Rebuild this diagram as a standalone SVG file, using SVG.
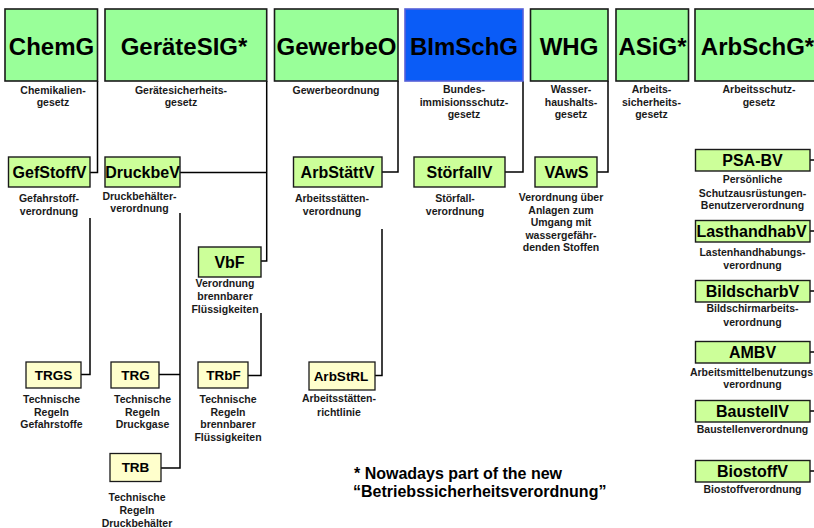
<svg xmlns="http://www.w3.org/2000/svg" width="814" height="528" viewBox="0 0 814 528">
  <style>
    text { font-family: "Liberation Sans", Arial, Helvetica, sans-serif; font-weight: bold; fill: #000; }
    .law rect { fill: #99ff99; stroke: #1a1a1a; stroke-width: 1.6; }
    .law text { font-size: 24px; text-anchor: middle; }
    .blue rect { fill: #0a5cf7; stroke: #5560d8; stroke-width: 1.6; }
    .ord rect { fill: #ccff99; stroke: #1a1a1a; stroke-width: 1.4; }
    .ord text { font-size: 16px; text-anchor: middle; }
    .rule rect { fill: #ffffcc; stroke: #1a1a1a; stroke-width: 1.3; }
    .rule text { font-size: 13.5px; text-anchor: middle; }
    text.lbl { font-size: 10.5px; text-anchor: middle; fill: #1a1a1a; }
    .note { font-size: 16px; }
    #connectors path { fill: none; stroke: #000; stroke-width: 1.5; }
  </style>

  <rect width="814" height="528" fill="#ffffff"/>

  <!-- connectors -->
  <g id="connectors">
    <path d="M97.5,81 V172.5 H90"/>
    <path d="M90,218 V374.5 H81"/>
    <path d="M266.7,81 V261 H261"/>
    <path d="M266.7,172.5 H180"/>
    <path d="M180,213 V468 H161"/>
    <path d="M180,374.5 H159"/>
    <path d="M261,313 V375.5 H248"/>
    <path d="M398,81 V172 H382"/>
    <path d="M382,229 V375.5 H375"/>
    <path d="M523,81 V172 H505"/>
    <path d="M608,81 V172 H597"/>
    <path d="M810,160 H814"/>
    <path d="M810,231 H814"/>
    <path d="M810,291 H814"/>
    <path d="M810,352 H814"/>
    <path d="M810,411 H814"/>
    <path d="M810,471 H814"/>
  </g>

  <!-- laws -->
  <g id="ChemG" class="law">
    <rect x="5" y="9" width="92.5" height="72"/>
    <text x="51.5" y="55">ChemG</text>
    <text class="lbl" x="53" y="93.5">Chemikalien-</text>
    <text class="lbl" x="53" y="106">gesetz</text>
  </g>
  <g id="GeraeteSIG" class="law">
    <rect x="105" y="9" width="161.7" height="72"/>
    <text x="184" y="55">GeräteSIG*</text>
    <text class="lbl" x="181" y="93.5">Gerätesicherheits-</text>
    <text class="lbl" x="181" y="106">gesetz</text>
  </g>
  <g id="GewerbeO" class="law">
    <rect x="274.5" y="9" width="123.5" height="72"/>
    <text x="336.5" y="55">GewerbeO</text>
    <text class="lbl" x="336" y="93.5">Gewerbeordnung</text>
  </g>
  <g id="BImSchG" class="law blue">
    <rect x="405" y="9" width="118" height="72"/>
    <text x="464" y="55">BImSchG</text>
    <text class="lbl" x="464" y="93.3">Bundes-</text>
    <text class="lbl" x="464" y="105.8">immisionsschutz-</text>
    <text class="lbl" x="464" y="118.3">gesetz</text>
  </g>
  <g id="WHG" class="law">
    <rect x="530.5" y="9" width="77.5" height="72"/>
    <text x="569" y="55">WHG</text>
    <text class="lbl" x="571" y="93.3">Wasser-</text>
    <text class="lbl" x="571" y="105.8">haushalts-</text>
    <text class="lbl" x="571" y="118.3">gesetz</text>
  </g>
  <g id="ASiG" class="law">
    <rect x="616" y="9" width="72.5" height="72"/>
    <text x="652.5" y="55">ASiG*</text>
    <text class="lbl" x="651.5" y="93.3">Arbeits-</text>
    <text class="lbl" x="651.5" y="105.8">sicherheits-</text>
    <text class="lbl" x="651.5" y="118.3">gesetz</text>
  </g>
  <g id="ArbSchG" class="law">
    <rect x="695" y="9" width="130" height="72"/>
    <text x="757.5" y="55">ArbSchG*</text>
    <text class="lbl" x="759" y="93.3">Arbeitsschutz-</text>
    <text class="lbl" x="759" y="105.8">gesetz</text>
  </g>

  <!-- ordinances -->
  <g id="GefStoffV" class="ord">
    <rect x="8.5" y="157" width="81.5" height="30"/>
    <text x="49.5" y="177.7">GefStoffV</text>
    <text class="lbl" x="49" y="202">Gefahrstoff-</text>
    <text class="lbl" x="49" y="214.5">verordnung</text>
  </g>
  <g id="DruckbeV" class="ord">
    <rect x="105" y="157" width="75" height="30"/>
    <text x="142.5" y="177.7">DruckbeV</text>
    <text class="lbl" x="139.5" y="199.5">Druckbehälter-</text>
    <text class="lbl" x="139.5" y="212">verordnung</text>
  </g>
  <g id="VbF" class="ord">
    <rect x="198.5" y="247" width="62.5" height="30"/>
    <text x="229.5" y="267.7">VbF</text>
    <text class="lbl" x="225" y="287">Verordnung</text>
    <text class="lbl" x="225" y="300">brennbarer</text>
    <text class="lbl" x="225" y="313">Flüssigkeiten</text>
  </g>
  <g id="ArbStaettV" class="ord">
    <rect x="293.5" y="157" width="88.5" height="30"/>
    <text x="337.5" y="177.7">ArbStättV</text>
    <text class="lbl" x="332" y="202">Arbeitsstätten-</text>
    <text class="lbl" x="332" y="214.5">verordnung</text>
  </g>
  <g id="StoerfallV" class="ord">
    <rect x="414" y="157" width="91" height="30"/>
    <text x="459.5" y="177.7">StörfallV</text>
    <text class="lbl" x="455" y="202">Störfall-</text>
    <text class="lbl" x="455" y="214.5">verordnung</text>
  </g>
  <g id="VAwS" class="ord">
    <rect x="535" y="157" width="62" height="30"/>
    <text x="566.5" y="177.7">VAwS</text>
    <text class="lbl" x="561" y="201">Verordnung über</text>
    <text class="lbl" x="561" y="213.5">Anlagen zum</text>
    <text class="lbl" x="561" y="226">Umgang mit</text>
    <text class="lbl" x="561" y="238.5">wassergefähr-</text>
    <text class="lbl" x="561" y="251">denden Stoffen</text>
  </g>

  <!-- ordinances under the occupational safety act -->
  <g id="PSA-BV" class="ord">
    <rect x="695.5" y="149.5" width="114.5" height="21.5"/>
    <text x="752.5" y="165.7">PSA-BV</text>
    <text class="lbl" x="752.5" y="183">Persönliche</text>
    <text class="lbl" x="752.5" y="196.5">Schutzausrüstungen-</text>
    <text class="lbl" x="752.5" y="209">Benutzerverordnung</text>
  </g>
  <g id="LasthandhabV" class="ord">
    <rect x="695.5" y="220.5" width="114.5" height="21.5"/>
    <text x="751.5" y="236.7">LasthandhabV</text>
    <text class="lbl" x="752.5" y="255.5">Lastenhandhabungs-</text>
    <text class="lbl" x="752.5" y="268.8">verordnung</text>
  </g>
  <g id="BildscharbV" class="ord">
    <rect x="695.5" y="280.5" width="114.5" height="21.5"/>
    <text x="752.5" y="296.7">BildscharbV</text>
    <text class="lbl" x="752.5" y="312">Bildschirmarbeits-</text>
    <text class="lbl" x="752.5" y="325.5">verordnung</text>
  </g>
  <g id="AMBV" class="ord">
    <rect x="695.5" y="341.5" width="114.5" height="21.5"/>
    <text x="752.5" y="357.7">AMBV</text>
    <text class="lbl" x="751.5" y="375.5">Arbeitsmittelbenutzungs</text>
    <text class="lbl" x="752.5" y="388">verordnung</text>
  </g>
  <g id="BaustellV" class="ord">
    <rect x="695.5" y="400.5" width="114.5" height="21.5"/>
    <text x="752.5" y="416.7">BaustellV</text>
    <text class="lbl" x="752.5" y="433">Baustellenverordnung</text>
  </g>
  <g id="BiostoffV" class="ord">
    <rect x="695.5" y="460.5" width="114.5" height="21.5"/>
    <text x="752.5" y="476.7">BiostoffV</text>
    <text class="lbl" x="752.5" y="493">Biostoffverordnung</text>
  </g>

  <!-- technical rules -->
  <g id="TRGS" class="rule">
    <rect x="26" y="362" width="55" height="26"/>
    <text x="53.5" y="379.8">TRGS</text>
    <text class="lbl" x="51.5" y="403.3">Technische</text>
    <text class="lbl" x="51.5" y="415.8">Regeln</text>
    <text class="lbl" x="51.5" y="428.3">Gefahrstoffe</text>
  </g>
  <g id="TRG" class="rule">
    <rect x="111" y="362" width="48" height="26"/>
    <text x="135.5" y="379.8">TRG</text>
    <text class="lbl" x="142.5" y="403.3">Technische</text>
    <text class="lbl" x="142.5" y="415.8">Regeln</text>
    <text class="lbl" x="142.5" y="428.3">Druckgase</text>
  </g>
  <g id="TRB" class="rule">
    <rect x="110" y="453.5" width="51" height="28"/>
    <text x="135.5" y="472.3">TRB</text>
    <text class="lbl" x="137" y="500.5">Technische</text>
    <text class="lbl" x="137" y="513.8">Regeln</text>
    <text class="lbl" x="137" y="527">Druckbehälter</text>
  </g>
  <g id="TRbF" class="rule">
    <rect x="198" y="362" width="50" height="26"/>
    <text x="223.5" y="379.8">TRbF</text>
    <text class="lbl" x="228" y="403.3">Technische</text>
    <text class="lbl" x="228" y="415.8">Regeln</text>
    <text class="lbl" x="228" y="428.3">brennbarer</text>
    <text class="lbl" x="228" y="440.8">Flüssigkeiten</text>
  </g>
  <g id="ArbStRL" class="rule">
    <rect x="309" y="362" width="66" height="28"/>
    <text x="341" y="380.8">ArbStRL</text>
    <text class="lbl" x="339" y="402">Arbeitsstätten-</text>
    <text class="lbl" x="339" y="415.5">richtlinie</text>
  </g>

  <!-- footnote -->
  <g id="footnote">
    <text class="note" x="354" y="478.7">* Nowadays part of the new</text>
    <text class="note" x="353" y="496.5">“Betriebssicherheitsverordnung”</text>
  </g>
</svg>
